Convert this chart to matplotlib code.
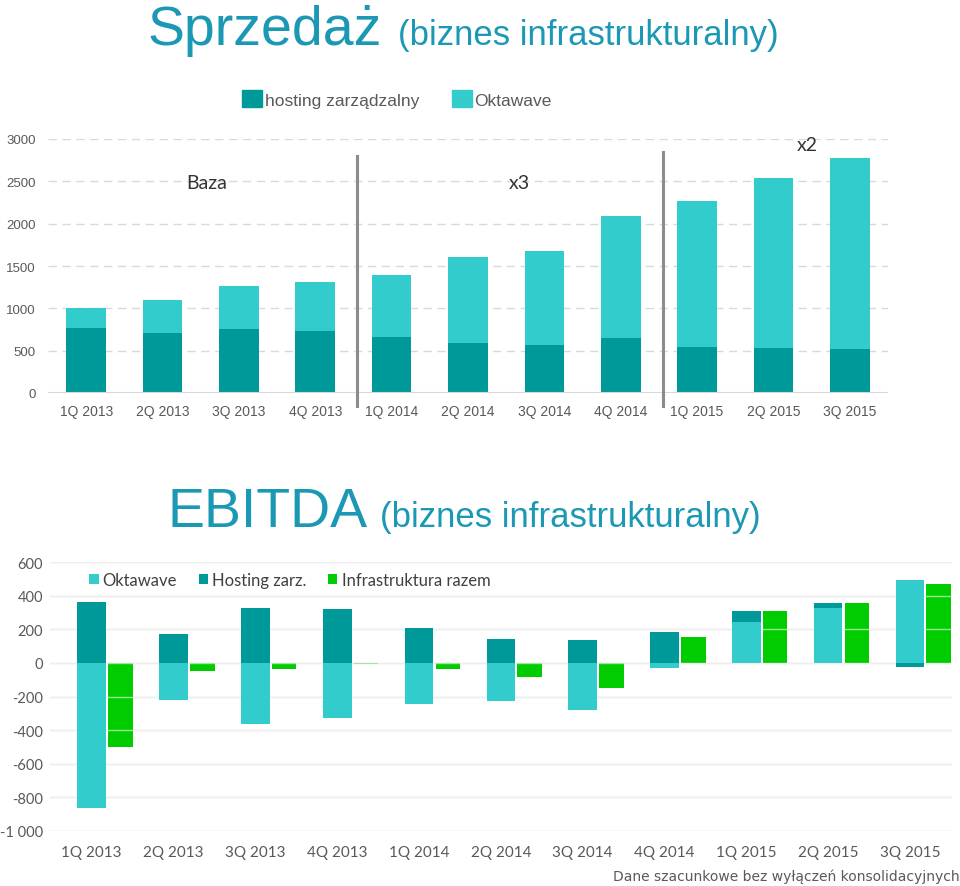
import matplotlib
matplotlib.use('Agg')
import matplotlib.pyplot as plt
import numpy as np
from matplotlib import font_manager
from matplotlib.patches import Patch
from matplotlib.ticker import FuncFormatter

quarters = ['1Q 2013', '2Q 2013', '3Q 2013', '4Q 2013', '1Q 2014', '2Q 2014',
            '3Q 2014', '4Q 2014', '1Q 2015', '2Q 2015', '3Q 2015']

# Sprzedaz (top chart), stacked
sales_hosting = [770, 710, 755, 735, 660, 585, 565, 645, 540, 530, 520]
sales_oktawave = [230, 390, 505, 575, 735, 1025, 1115, 1450, 1725, 2005, 2250]

# EBITDA (bottom chart)
ebitda_oktawave = [-865, -220, -364, -328, -246, -225, -282, -30, 246, 325, 492]
ebitda_hosting = [365, 170, 328, 322, 208, 140, 135, 182, 65, 30, -22]
ebitda_total = [-500, -50, -36, -6, -38, -85, -147, 152, 311, 355, 470]

DARK = '#009999'
LIGHT = '#33CCCC'
GREEN = '#00CC00'
TITLE = '#1a98b4'
GREY = '#595959'

names = {f.name for f in font_manager.fontManager.ttflist}
narrow = 'Liberation Sans Narrow' if 'Liberation Sans Narrow' in names else 'Liberation Sans'

W, H = 960, 887
fig = plt.figure(figsize=(W / 100, H / 100), dpi=100)

# ---- titles
fig.text(148 / W, 1 - 45 / H, 'Sprzedaż', fontsize=40, color=TITLE,
         family='Liberation Sans', va='baseline', ha='left')
fig.text(398 / W, 1 - 45 / H, '(biznes infrastrukturalny)', fontsize=25, color=TITLE,
         family=narrow, va='baseline', ha='left')
fig.text(168 / W, 1 - 527 / H, 'EBITDA', fontsize=40, color=TITLE,
         family='Liberation Sans', va='baseline', ha='left')
fig.text(380 / W, 1 - 527 / H, '(biznes infrastrukturalny)', fontsize=25, color=TITLE,
         family='Liberation Sans', va='baseline', ha='left')

# ---- top chart
x = np.arange(len(quarters))
ax = fig.add_axes([48 / W, 1 - 394 / H, 840 / W, 254 / H])
ax.bar(x, sales_hosting, width=0.52, color=DARK, zorder=2, label='hosting zarządzalny')
ax.bar(x, sales_oktawave, width=0.52, bottom=sales_hosting, color=LIGHT, zorder=2,
       label='Oktawave')
ax.set_ylim(0, 3000)
ax.set_xlim(-0.5, 10.5)
ax.set_yticks(np.arange(0, 3001, 500))
ax.set_xticks(x)
ax.set_xticklabels(quarters)
for y in np.arange(500, 3001, 500):
    ax.axhline(y, color='#d9d9d9', lw=1, ls=(0, (6, 4)), zorder=0)
ax.axhline(0, color='#d9d9d9', lw=1.5, zorder=3)
for s in ax.spines.values():
    s.set_visible(False)
ax.tick_params(length=0, labelcolor=GREY)
ax.tick_params(axis='y', pad=9, labelsize=9.5)
ax.tick_params(axis='x', pad=8, labelsize=10)
for lab in ax.get_xticklabels() + ax.get_yticklabels():
    lab.set_family(narrow)

# separators
ax.axvline(3.55, ymin=-0.05, ymax=0.935, color='#8c8c8c', lw=2.2, clip_on=False, zorder=4)
ax.axvline(7.55, ymin=-0.05, ymax=0.949, color='#8c8c8c', lw=2.2, clip_on=False, zorder=4)
ax.text(1.58, 2490, 'Baza', fontsize=14, color='#333333', family='Lato', ha='center', va='center')
ax.text(5.67, 2490, 'x3', fontsize=14, color='#333333', family='Lato', ha='center', va='center')
ax.text(9.44, 2940, 'x2', fontsize=14, color='#333333', family='Lato', ha='center', va='center')

top_handles = [Patch(color=DARK), Patch(color=LIGHT)]
fig.legend(top_handles, ['hosting zarządzalny', 'Oktawave'], loc='center',
           bbox_to_anchor=(397 / W, 1 - 100 / H), ncol=2, frameon=False,
           handlelength=1.15, handleheight=1.15, handletextpad=0.15, columnspacing=1.9,
           prop={'family': narrow, 'size': 12.5}, labelcolor=GREY)

# ---- bottom chart
ax2 = fig.add_axes([50 / W, 1 - 831.7 / H, 901.7 / W, 268.4 / H])
okt = np.array(ebitda_oktawave)
host = np.array(ebitda_hosting)
host_bottom = np.where(host >= 0, np.maximum(okt, 0), np.minimum(okt, 0))
ax2.bar(x, okt, width=0.35, color=LIGHT, zorder=3, label='Oktawave')
ax2.bar(x, host, width=0.35, bottom=host_bottom, color=DARK, zorder=3, label='Hosting zarz.')
ax2.bar(x + 0.352, ebitda_total, width=0.30, color=GREEN, zorder=1,
        label='Infrastruktura razem')
ax2.set_ylim(-1000, 600)
ax2.set_xlim(-0.51, 10.51)
yt = np.arange(-1000, 601, 200)
ax2.set_yticks(yt)
for y in yt:
    ax2.axhline(y, color='#d9d9d9', lw=1, zorder=0)
    ax2.axhline(y, color='white', lw=1, alpha=0.6, zorder=2)
ax2.yaxis.set_major_formatter(FuncFormatter(
    lambda v, p: '{:,}'.format(int(v)).replace(',', ' ')))
ax2.set_xticks(x)
ax2.set_xticklabels(quarters)
for s in ax2.spines.values():
    s.set_visible(False)
ax2.tick_params(length=0, labelcolor=GREY)
ax2.tick_params(axis='y', pad=5, labelsize=10.5)
ax2.tick_params(axis='x', pad=10, labelsize=11)
for lab in ax2.get_xticklabels() + ax2.get_yticklabels():
    lab.set_family('Lato')

ax2.legend(loc='center', bbox_to_anchor=(0.266, 0.934), ncol=3, frameon=False,
           handlelength=0.55, handleheight=0.55, handletextpad=0.25, columnspacing=1.3,
           prop={'family': 'Lato', 'size': 12}, labelcolor='#404040')

fig.text(1.0, 1 - 877 / H, 'Dane szacunkowe bez wyłączeń konsolidacyjnych', fontsize=10,
         color=GREY, family='DejaVu Sans', ha='right', va='center')

fig.savefig('out.png', dpi=100)
